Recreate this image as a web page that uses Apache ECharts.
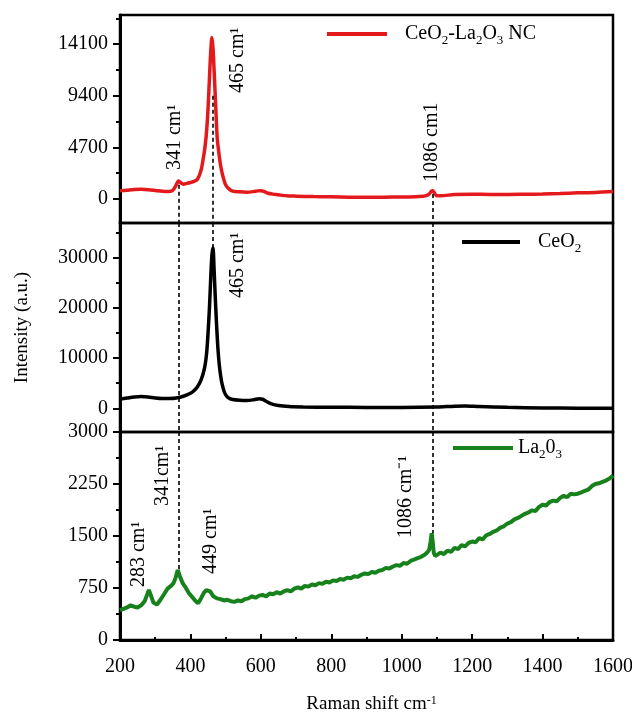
<!DOCTYPE html>
<html>
<head>
<meta charset="utf-8">
<script src="https://cdn.jsdelivr.net/npm/echarts@6/dist/echarts.min.js"></script>
<style>
html, body { margin: 0; padding: 0; background: #fff; }
#chart { width: 632px; height: 713px; }
</style>
</head>
<body>
<div id="chart"></div>
<script>
// Raman shift (cm-1) / intensity
const redX = [200,220,240,260,280,300,320,340,350,360,366,372,380,390,400,410,420,430,436,442,446,450,454,458,461,464,468,472,476,480,486,492,500,510,520,540,560,580,590,600,610,620,640,660,680,700,750,800,850,900,950,1000,1040,1060,1070,1078,1084,1088,1092,1098,1110,1150,1200,1250,1300,1350,1400,1450,1500,1550,1600];
const redY = [740,800,860,880,850,780,700,680,800,1300,1640,1500,1350,1420,1500,1600,1800,2600,3600,4900,6200,8200,11000,13600,14700,13800,11200,8300,5600,4400,3000,2100,1300,900,720,650,620,680,740,760,680,520,420,330,280,260,220,200,170,160,170,180,200,250,300,450,700,760,600,320,300,400,430,420,410,430,450,500,560,600,680];

const blackX = [200,220,240,260,280,300,320,340,360,380,400,410,420,430,440,446,450,454,458,461,464,467,470,474,478,482,486,490,496,502,510,520,540,560,580,595,605,615,630,650,680,720,800,900,1000,1100,1150,1180,1220,1300,1400,1500,1600];
const blackY = [1850,2050,2250,2350,2250,2050,1950,1950,2050,2400,3000,3500,4300,5600,8000,11000,15000,20000,26500,30500,32000,28000,23000,17000,12000,8600,6400,4800,3300,2500,2000,1750,1600,1550,1700,1900,1800,1400,900,550,350,260,200,180,160,250,420,450,350,200,80,30,0];

const greenX = [200,210,220,230,240,250,260,270,276,282,288,295,305,315,325,335,345,352,358,364,370,378,386,395,405,415,422,430,438,445,450,456,465,475,485,495,505,515,525,535,545,555,565,575,585,595,605,615,625,635,645,655,665,675,685,695,705,715,725,735,745,755,765,775,785,795,805,815,825,835,845,855,865,875,885,895,905,915,925,935,945,955,965,975,985,995,1005,1015,1025,1035,1045,1055,1065,1072,1078,1082,1085,1088,1091,1095,1100,1110,1120,1130,1140,1150,1160,1170,1180,1190,1200,1210,1220,1230,1240,1250,1260,1270,1280,1290,1300,1310,1320,1330,1340,1350,1360,1370,1380,1390,1400,1410,1420,1430,1440,1450,1460,1470,1480,1490,1500,1510,1520,1530,1540,1550,1560,1570,1580,1590,1600];
const greenY = [430,450,470,500,480,470,500,560,640,720,640,540,510,580,660,740,780,820,900,1010,920,820,760,680,620,560,530,600,680,720,740,700,630,600,590,570,580,560,550,570,560,590,600,630,610,640,650,630,670,660,690,670,700,720,700,740,760,740,780,770,800,790,820,810,840,830,860,850,880,870,900,890,920,910,940,960,950,980,970,1000,1010,1040,1030,1060,1080,1070,1110,1100,1140,1160,1180,1200,1230,1260,1300,1420,1540,1420,1260,1210,1230,1260,1240,1290,1270,1330,1310,1370,1350,1400,1420,1410,1470,1450,1510,1530,1560,1580,1620,1640,1680,1700,1740,1760,1790,1820,1840,1870,1860,1920,1950,1940,1990,2010,2000,2050,2080,2060,2110,2100,2110,2130,2150,2170,2220,2250,2260,2280,2300,2330,2370];

// axes
const xTicks = [200, 1600, 200];              // min, max, step
const topTicks = [0, 4700, 9400, 14100];
const topMinor = [2350, 7050, 11750, 16450];
const topRange = [-2186, 16760];
const midTicks = [0, 10000, 20000, 30000];
const midMinor = [5000, 15000, 25000, 35000];
const midRange = [-4721, 36912];
const botRange = [0, 3000, 750];

// dashed guide positions (cm-1)
const p341 = 366, p465 = 462, p1086 = 1087;

const FONT = '"Liberation Serif", "Times New Roman", serif';
const chart = echarts.init(document.getElementById('chart'));

const pairs = (xs, ys) => xs.map((x, i) => [x, ys[i]]);
const plain = v => String(v);
const dash = { color: '#000', type: [4, 3], width: 1.6 };
const seg = (x, a, b) => [{ coord: [x, a] }, { coord: [x, b] }];

const grids = [
  { left: 120, right: 19, top: 15, height: 208 },
  { left: 120, right: 19, top: 223, height: 209 },
  { left: 120, right: 19, top: 432, height: 208 }
].map(g => Object.assign(g, { show: true, borderColor: '#000', borderWidth: 2.5, backgroundColor: 'transparent', outerBoundsMode: 'none', containLabel: false }));

const hiddenX = i => ({
  type: 'value', gridIndex: i, min: xTicks[0], max: xTicks[1],
  axisLine: { show: false }, axisTick: { show: false }, axisLabel: { show: false }, splitLine: { show: false }
});

const mainY = (i, range, ticks, extra) => Object.assign({
  type: 'value', gridIndex: i, position: 'left', min: range[0], max: range[1],
  axisLine: { show: true, onZero: false, lineStyle: { color: '#000', width: 3 } },
  axisTick: { show: true, length: 7, customValues: ticks, lineStyle: { color: '#000', width: 2 } },
  axisLabel: { customValues: ticks, formatter: plain, margin: 12, color: '#000', fontSize: 20, fontFamily: FONT },
  splitLine: { show: false }
}, extra || {});

const minorY = (i, range, ticks) => ({
  type: 'value', gridIndex: i, position: 'left', min: range[0], max: range[1],
  axisLine: { show: false },
  axisTick: { show: true, length: 4, customValues: ticks, lineStyle: { color: '#000', width: 2 } },
  axisLabel: { show: false }, splitLine: { show: false }
});

const legendText = {
  color: '#000', fontSize: 20, fontFamily: FONT, lineHeight: 26,
  rich: { sub: { fontSize: 13, fontFamily: FONT, verticalAlign: 'bottom', lineHeight: 26, padding: [7, 0, 0, 0] } }
};
const legendNames = {
  'CeO2-La2O3 NC': 'CeO{sub|2}-La{sub|2}O{sub|3} NC',
  'CeO2': 'CeO{sub|2}',
  'La2O3': 'La{sub|2}0{sub|3}'
};

const option = {
  animation: false,
  backgroundColor: '#fff',
  grid: grids,
  legend: [
    { data: ['CeO2-La2O3 NC'], left: 327, top: 21, padding: 0, icon: 'rect', itemWidth: 60, itemHeight: 4,
      formatter: n => legendNames[n], textStyle: Object.assign({ padding: [0, 0, 0, 13] }, legendText) },
    { data: ['CeO2'], left: 462, top: 229, padding: 0, icon: 'rect', itemWidth: 58, itemHeight: 4,
      formatter: n => legendNames[n], textStyle: Object.assign({ padding: [0, 0, 0, 13] }, legendText) },
    { data: ['La2O3'], left: 453, top: 435, padding: 0, icon: 'rect', itemWidth: 60, itemHeight: 4,
      formatter: n => legendNames[n], textStyle: legendText }
  ],
  xAxis: [
    hiddenX(0),
    hiddenX(1),
    {
      type: 'value', gridIndex: 2, min: xTicks[0], max: xTicks[1], interval: xTicks[2],
      name: 'Raman shift cm{sup|-1}', nameLocation: 'middle', nameGap: 55,
      nameTextStyle: { color: '#000', fontSize: 19, fontFamily: FONT, padding: [0, 0, 0, 10], rich: { sup: { fontSize: 12, fontFamily: FONT, verticalAlign: 'top', padding: [0, 0, 7, 0] } } },
      axisLine: { show: true, onZero: false, lineStyle: { color: '#000', width: 3 } },
      axisTick: { show: true, inside: true, length: 6, lineStyle: { color: '#000', width: 2 } },
      minorTick: { show: true, splitNumber: 2, length: 3, lineStyle: { color: '#000', width: 2 } },
      axisLabel: { formatter: plain, margin: 17, color: '#000', fontSize: 20, fontFamily: FONT },
      splitLine: { show: false }
    }
  ],
  yAxis: [
    mainY(0, topRange, topTicks),
    minorY(0, topRange, topMinor),
    mainY(1, midRange, midTicks, {
      name: 'Intensity (a.u.)', nameLocation: 'middle', nameGap: 88,
      nameTextStyle: { color: '#000', fontSize: 19, fontFamily: FONT }
    }),
    minorY(1, midRange, midMinor),
    {
      type: 'value', gridIndex: 2, position: 'left', min: botRange[0], max: botRange[1], interval: botRange[2],
      axisLine: { show: true, lineStyle: { color: '#000', width: 3 } },
      axisTick: { show: true, length: 7, lineStyle: { color: '#000', width: 2 } },
      minorTick: { show: true, splitNumber: 2, length: 4, lineStyle: { color: '#000', width: 2 } },
      axisLabel: { formatter: plain, margin: 12, color: '#000', fontSize: 20, fontFamily: FONT },
      splitLine: { show: false }
    }
  ],
  series: [
    {
      name: 'CeO2-La2O3 NC', type: 'line', xAxisIndex: 0, yAxisIndex: 0,
      data: pairs(redX, redY), showSymbol: false, smooth: 0.3,
      lineStyle: { color: '#e3191c', width: 3.5 }, itemStyle: { color: '#e3191c' },
      markLine: { silent: true, symbol: 'none', label: { show: false }, lineStyle: dash,
        data: [seg(p341, 1300, topRange[0]), seg(p465, 9400, topRange[0]), seg(p1086, 450, topRange[0])] }
    },
    {
      name: 'CeO2', type: 'line', xAxisIndex: 1, yAxisIndex: 2,
      data: pairs(blackX, blackY), showSymbol: false, smooth: 0.3,
      lineStyle: { color: '#000', width: 3.5 }, itemStyle: { color: '#000' },
      markLine: { silent: true, symbol: 'none', label: { show: false }, lineStyle: dash,
        data: [seg(p341, midRange[1], midRange[0]), seg(p465, midRange[1], 32000), seg(p1086, midRange[1], midRange[0])] }
    },
    {
      name: 'La2O3', type: 'line', xAxisIndex: 2, yAxisIndex: 4,
      data: pairs(greenX, greenY), showSymbol: false,
      lineStyle: { color: '#17821b', width: 4 }, itemStyle: { color: '#17821b' },
      markLine: { silent: true, symbol: 'none', label: { show: false }, lineStyle: dash,
        data: [seg(p341, botRange[1], 1010), seg(p1086, botRange[1], 1540)] }
    }
  ]
};
chart.setOption(option);

// peak labels: [seriesIndex, x, y of text start, text]
const notes = [
  [0, 356, 2640, '341 cm¹'],
  [0, 535, 9660, '465 cm¹'],
  [0, 1085, 1550, '1086 cm1'],
  [1, 535, 21970, '465 cm¹'],
  [2, 254, 764, '283 cm¹'],
  [2, 322, 1932, '341cm¹'],
  [2, 459, 952, '449 cm¹'],
  [2, 1012, 1470, '1086 cm⁻¹']
];
chart.setOption({
  graphic: notes.map(n => {
    const p = chart.convertToPixel({ seriesIndex: n[0] }, [n[1], n[2]]);
    return {
      type: 'text', x: p[0], y: p[1], rotation: Math.PI / 2, z: 10,
      style: { text: n[3], fill: '#000', fontSize: 20, fontFamily: FONT, align: 'left', verticalAlign: 'middle' }
    };
  })
});
</script>
</body>
</html>
